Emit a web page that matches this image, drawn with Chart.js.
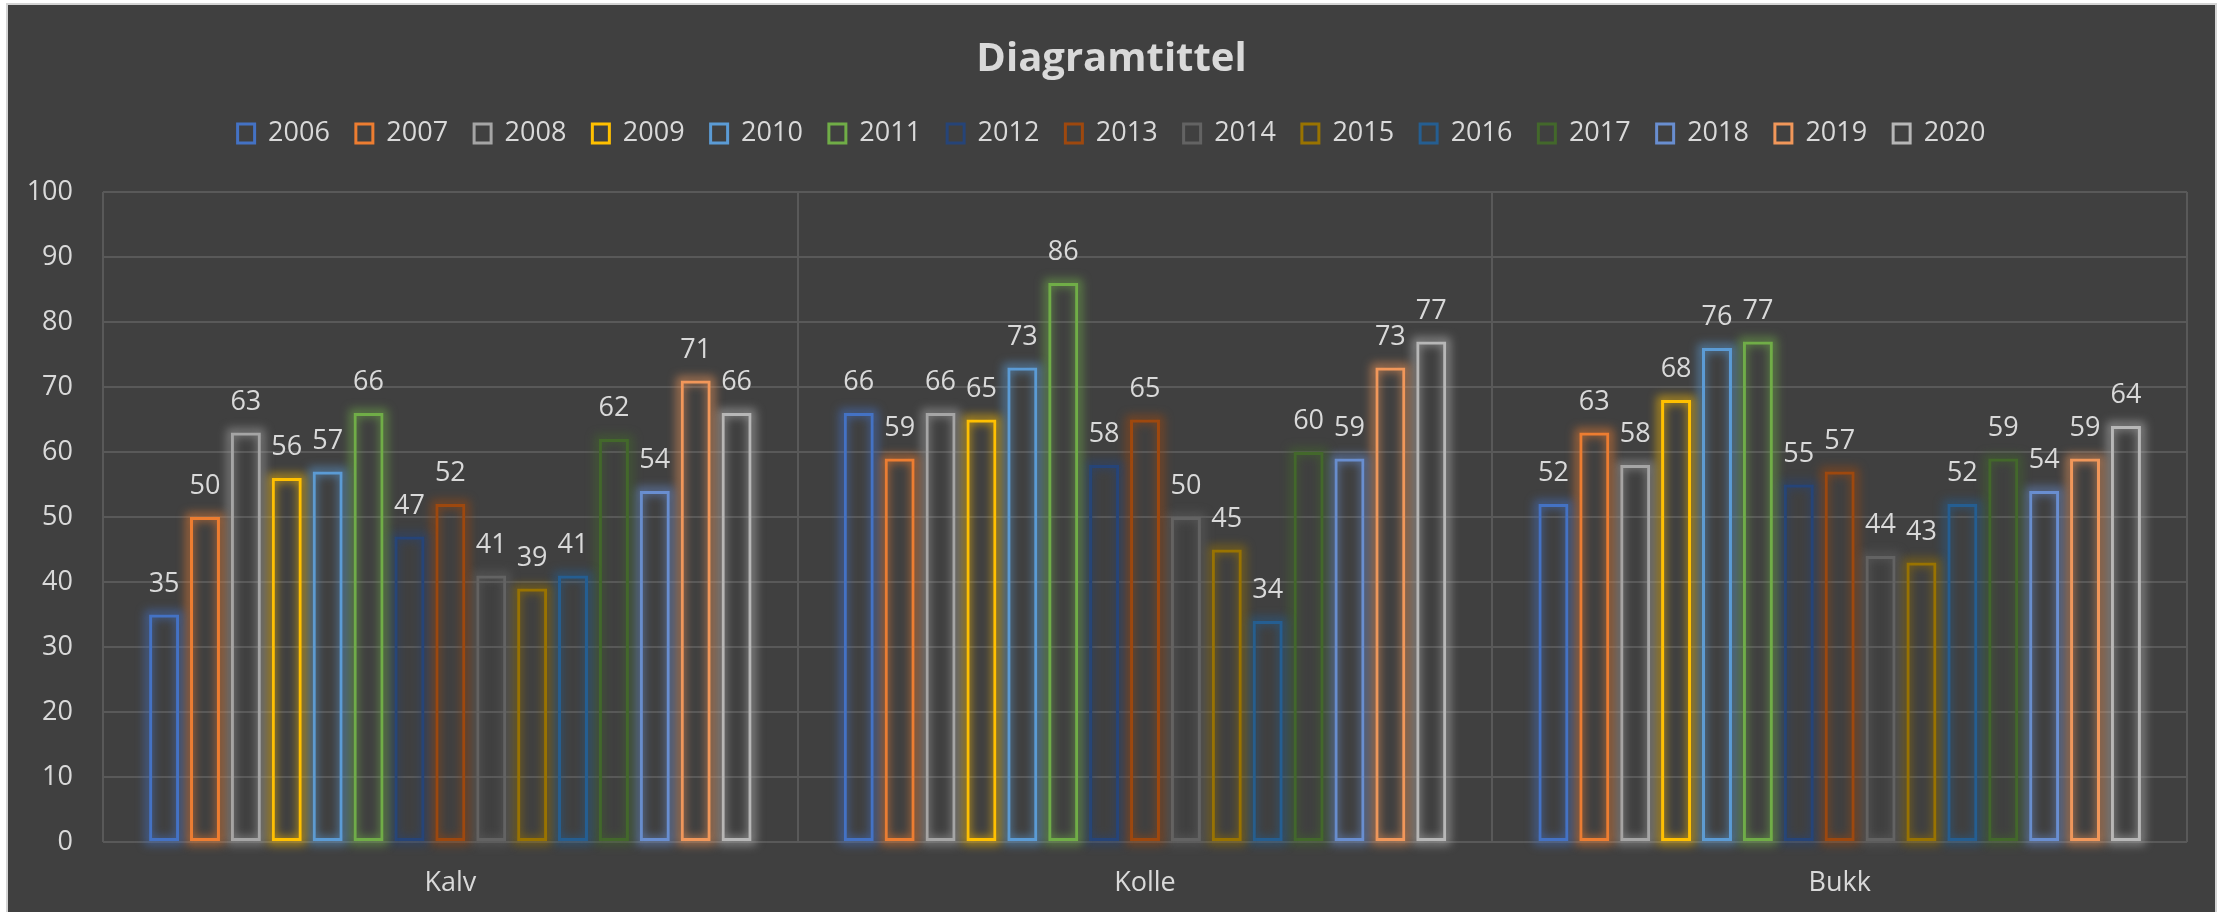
<!DOCTYPE html>
<html>
<head>
<meta charset="utf-8">
<script src="https://cdn.jsdelivr.net/npm/chart.js@4.4.1/dist/chart.umd.min.js"></script>
<style>
    html, body { margin: 0; padding: 0; background: #ffffff; overflow: hidden; }
    #ramme {
        position: absolute; left: 6px; top: 3px;
        width: 2207px; height: 907px;
        border: 2px solid #d4d4d4; border-bottom: none;
        background: #404040;
    }
    canvas { display: block; }
</style>
</head>
<body>
<div id="ramme"><canvas id="diagram" width="2207" height="907"></canvas></div>
<script>
    const kategorier = ['Kalv', 'Kolle', 'Bukk'];
    const aar = ['2006', '2007', '2008', '2009', '2010', '2011', '2012', '2013',
                 '2014', '2015', '2016', '2017', '2018', '2019', '2020'];

    // verdier per kategori, én per år (2006-2020)
    const kalv  = [35, 50, 63, 56, 57, 66, 47, 52, 41, 39, 41, 62, 54, 71, 66];
    const kolle = [66, 59, 66, 65, 73, 86, 58, 65, 50, 45, 34, 60, 59, 73, 77];
    const bukk  = [52, 63, 58, 68, 76, 77, 55, 57, 44, 43, 52, 59, 54, 59, 64];

    const yTicks = [0, 10, 20, 30, 40, 50, 60, 70, 80, 90, 100];

    const farger = [
        '#4472C4', '#ED7D31', '#A5A5A5', '#FFC000', '#5B9BD5',
        '#70AD47', '#264478', '#9E480E', '#636363', '#997300',
        '#255E91', '#43682B', '#698ED0', '#F1975A', '#B7B7B7'
    ];

    const tekstFarge = '#d9d9d9';
    const gridFarge = '#595959';

    function medAlfa(hex, a) {
        const n = parseInt(hex.slice(1), 16);
        return 'rgba(' + (n >> 16) + ',' + ((n >> 8) & 255) + ',' + (n & 255) + ',' + a + ')';
    }

    const datasett = aar.map((a, i) => ({
        label: a,
        data: [kalv[i], kolle[i], bukk[i]],
        backgroundColor: 'rgba(0,0,0,0)',
        borderColor: farger[i],
        borderWidth: 3,
        borderSkipped: false,
        categoryPercentage: 0.883,
        barPercentage: 0.733,
        yAxisID: 'y'
    }));

    // glød rundt søylene, tegnet før selve søylene
    const glod = {
        id: 'glod',
        beforeDatasetDraw(chart, args) {
            const ctx = chart.ctx;
            ctx.save();
            ctx.filter = 'blur(5px)';
            ctx.strokeStyle = medAlfa(farger[args.index], 0.6);
            ctx.lineWidth = 8;
            args.meta.data.forEach(bar => {
                const p = bar.getProps(['x', 'y', 'base', 'width'], true);
                ctx.strokeRect(p.x - p.width / 2, p.y, p.width, p.base - p.y);
            });
            ctx.restore();
        }
    };

    // verdier over søylene
    const verdiEtiketter = {
        id: 'verdiEtiketter',
        afterDatasetsDraw(chart) {
            const ctx = chart.ctx;
            ctx.save();
            ctx.font = '27px "Open Sans"';
            ctx.fillStyle = tekstFarge;
            ctx.textAlign = 'center';
            ctx.textBaseline = 'alphabetic';
            chart.data.datasets.forEach((ds, i) => {
                chart.getDatasetMeta(i).data.forEach((bar, j) => {
                    ctx.fillText(ds.data[j], bar.x, bar.y - 23);
                });
            });
            ctx.restore();
        }
    };

    Chart.defaults.font.family = "'Open Sans', sans-serif";
    Chart.defaults.color = tekstFarge;

    const ctx = document.getElementById('diagram').getContext('2d');
    new Chart(ctx, {
        type: 'bar',
        data: {
            labels: kategorier,
            datasets: datasett
        },
        options: {
            responsive: false,
            animation: false,
            layout: {
                padding: 0
            },
            plugins: {
                title: {
                    display: true,
                    text: 'Diagramtittel',
                    color: tekstFarge,
                    font: { size: 40, weight: 'bold' },
                    padding: { top: 31, bottom: 10 }
                },
                // tom undertittel brukt som avstand mellom forklaring og plott
                subtitle: {
                    display: true,
                    text: '',
                    weight: 500,
                    font: { size: 10, lineHeight: 1 },
                    padding: { top: 0, bottom: 25 }
                },
                legend: {
                    position: 'top',
                    labels: {
                        font: { size: 27 },
                        color: tekstFarge,
                        boxWidth: 17,
                        boxHeight: 19,
                        padding: 26
                    }
                },
                tooltip: { enabled: false }
            },
            scales: {
                x: {
                    grid: {
                        color: gridFarge,
                        lineWidth: 2,
                        drawTicks: false,
                        offset: true
                    },
                    border: { display: false },
                    ticks: {
                        font: { size: 27 },
                        color: tekstFarge,
                        padding: 25
                    },
                    afterFit(scale) { scale.height = 70; }
                },
                y: {
                    min: 0,
                    max: 100,
                    grid: {
                        color: gridFarge,
                        lineWidth: 2,
                        drawTicks: false
                    },
                    border: { display: false },
                    afterBuildTicks(scale) {
                        scale.ticks = yTicks.map(v => ({ value: v }));
                    },
                    ticks: {
                        font: { size: 27 },
                        color: tekstFarge,
                        padding: 30
                    },
                    afterFit(scale) { scale.width = 95; }
                },
                // usynlig akse som gir luft til høyre for plottet
                luft: {
                    type: 'linear',
                    position: 'right',
                    grid: { display: false },
                    border: { display: false },
                    ticks: { display: false },
                    afterFit(scale) { scale.width = 28; }
                }
            }
        },
        plugins: [glod, verdiEtiketter]
    });
</script>
</body>
</html>
